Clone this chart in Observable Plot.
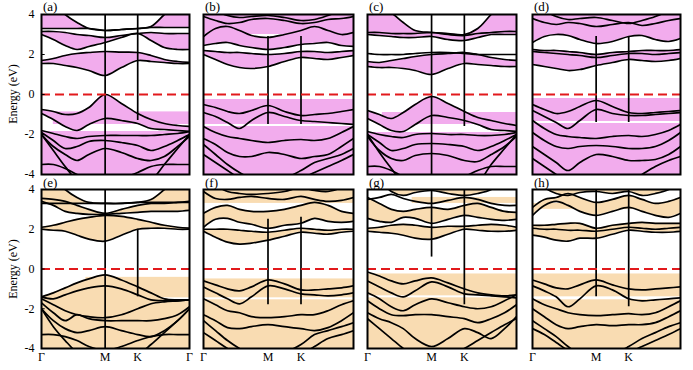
<!DOCTYPE html>
<html><head><meta charset="utf-8">
<script src="https://cdn.jsdelivr.net/npm/d3@7"></script>
<script src="https://cdn.jsdelivr.net/npm/@observablehq/plot@0.6"></script>
<style>
body{margin:0;background:#fff;}
#root{position:relative;width:693px;height:370px;overflow:hidden;font-family:"Liberation Serif","DejaVu Serif",serif;}
.pl{position:absolute;}
.lab{position:absolute;font-size:13px;line-height:13px;color:#000;}
.ylab{position:absolute;font-size:12px;white-space:nowrap;transform:translate(-50%,-50%) rotate(-90deg);}
</style></head>
<body><div id="root"></div>
<script>
// k-path sample points (fraction of path): Γ ... M(0.43) ... K(0.65) ... Γ
const kPts = [0, 0.08, 0.16, 0.24, 0.32, 0.43, 0.54, 0.65, 0.74, 0.83, 0.92, 1];
const yTicks = [-4, -2, 0, 2, 4];
const xTickVals4 = [0, 0.43, 0.65, 1];
const xTickText4 = ["Γ", "M", "K", "Γ"];
const xTickVals3 = [0, 0.43, 0.65];
const xTickText3 = ["Γ", "M", "K"];
const panelNames = ["(a)", "(b)", "(c)", "(d)", "(e)", "(f)", "(g)", "(h)"];
const pink = "#f2aced";
const orange = "#f9dcb2";

// bands: conduction c1..c6 (idx 0-5), valence v1..v7 (idx 6..)
const bandsA = [
  [1.55, 1.55, 1.45, 1.35, 1.2, 0.95, 1.35, 1.7, 1.65, 1.6, 1.55, 1.55],
  [1.7, 1.8, 1.95, 2.05, 2.1, 2.15, 2.12, 2.1, 1.95, 1.75, 1.65, 1.6],
  [3.0, 2.75, 2.45, 2.25, 2.4, 2.6, 2.85, 3.05, 2.7, 2.35, 2.25, 2.25],
  [3.15, 3.15, 3.1, 3.0, 2.95, 2.85, 2.95, 3.05, 3.1, 3.05, 3.05, 3.05],
  [3.3, 3.3, 3.3, 3.3, 3.3, 3.2, 3.25, 3.3, 3.35, 3.35, 3.35, 3.35],
  [5.0, 4.6, 4.0, 3.6, 3.3, 3.2, 3.25, 3.3, 3.4, 4.0, 4.6, 5.0],
  [-0.75, -0.85, -1.0, -0.95, -0.65, 0.0, -0.45, -0.95, -1.25, -1.45, -1.55, -1.6],
  [-0.95, -1.25, -1.6, -1.8, -1.5, -1.2, -1.3, -1.45, -1.7, -1.75, -1.8, -1.85],
  [-1.8, -1.95, -2.1, -2.2, -2.1, -2.05, -2.05, -2.05, -2.05, -2.0, -1.95, -1.85],
  [-1.9, -2.3, -2.7, -2.6, -2.35, -2.3, -2.4, -2.55, -2.8, -2.6, -2.3, -2.0],
  [-2.0, -2.6, -3.0, -3.3, -3.0, -2.7, -2.9, -3.2, -3.3, -3.1, -2.6, -2.1],
  [-3.5, -3.5, -3.7, -4.0, -4.3, -4.4, -4.2, -3.9, -3.6, -3.5, -3.5, -3.5],
  [-2.0, -2.8, -3.6, -4.3, -4.6, -4.6, -4.6, -4.6, -4.3, -3.5, -2.7, -2.0]
];
const bandsB = [
  [2.0, 1.75, 1.5, 1.35, 1.3, 1.4, 1.65, 1.85, 1.8, 1.75, 1.85, 1.95],
  [2.2, 2.15, 2.1, 2.1, 2.05, 2.0, 2.05, 2.15, 2.15, 2.1, 2.15, 2.2],
  [2.45, 2.55, 2.6, 2.45, 2.35, 2.25, 2.35, 2.5, 2.55, 2.6, 2.45, 2.4],
  [2.9, 3.3, 3.4, 3.2, 2.95, 2.85, 3.0, 3.2, 3.4, 3.2, 3.0, 3.1],
  [3.9, 3.7, 3.55, 3.6, 3.75, 3.8, 3.7, 3.55, 3.6, 3.75, 3.8, 3.9],
  [4.5, 4.2, 3.95, 3.85, 3.9, 3.95, 3.85, 3.7, 3.75, 3.95, 4.2, 4.5],
  [-0.5, -0.65, -0.85, -0.95, -0.8, -0.55, -0.85, -1.05, -1.0, -0.95, -0.85, -0.75],
  [-0.9, -1.1, -1.4, -1.7, -1.3, -0.9, -1.1, -1.3, -1.35, -1.4, -1.45, -1.5],
  [-1.6, -1.9, -2.1, -2.2, -2.3, -2.4, -2.3, -2.25, -2.3, -2.2, -1.9, -1.6],
  [-2.2, -2.5, -2.9, -3.1, -3.1, -2.9, -3.0, -3.2, -3.1, -3.0, -2.6, -2.2],
  [-2.5, -3.0, -3.5, -3.9, -4.2, -4.4, -4.2, -3.8, -3.4, -3.2, -3.0, -2.7],
  [-3.0, -3.4, -3.8, -4.2, -4.5, -4.6, -4.5, -4.2, -3.9, -3.6, -3.3, -3.0]
];
const bandsC = [
  [1.4, 1.35, 1.35, 1.3, 1.2, 1.0, 1.3, 1.55, 1.5, 1.45, 1.4, 1.4],
  [1.65, 1.6, 1.7, 1.8, 1.9, 2.0, 2.05, 2.1, 2.0, 1.85, 1.75, 1.7],
  [2.05, 2.0, 2.0, 2.0, 2.05, 2.1, 2.1, 2.05, 2.0, 2.0, 2.0, 2.0],
  [3.0, 2.95, 2.9, 2.85, 2.85, 2.9, 2.75, 2.7, 2.85, 3.0, 3.0, 3.0],
  [3.1, 3.1, 3.05, 3.05, 3.05, 3.1, 3.0, 2.95, 3.05, 3.1, 3.15, 3.15],
  [5.0, 4.6, 4.1, 3.6, 3.2, 3.1, 3.05, 3.0, 3.3, 4.0, 4.6, 5.0],
  [-0.8, -1.0, -1.2, -0.9, -0.5, -0.1, -0.45, -0.85, -1.15, -1.3, -1.45, -1.55],
  [-1.2, -1.5, -1.8, -1.85, -1.5, -1.05, -1.15, -1.3, -1.5, -1.75, -1.8, -1.85],
  [-1.85, -2.0, -2.1, -2.15, -2.0, -1.95, -2.0, -2.0, -2.05, -2.05, -2.0, -1.9],
  [-2.0, -2.4, -2.8, -2.7, -2.5, -2.45, -2.5, -2.6, -2.8, -2.6, -2.3, -2.0],
  [-2.1, -2.8, -3.2, -3.3, -3.05, -2.95, -3.05, -3.3, -3.35, -3.0, -2.6, -2.1],
  [-3.6, -3.6, -3.8, -4.1, -4.3, -4.4, -4.3, -4.1, -3.8, -3.6, -3.6, -3.6],
  [-2.0, -2.9, -3.7, -4.4, -4.6, -4.6, -4.6, -4.6, -4.4, -3.5, -2.7, -2.0]
];
const bandsD = [
  [1.5, 1.4, 1.3, 1.2, 1.25, 1.45, 1.6, 1.75, 1.7, 1.65, 1.7, 1.8],
  [2.15, 2.1, 2.05, 2.0, 1.95, 1.85, 1.95, 2.05, 2.05, 2.0, 2.05, 2.1],
  [2.25, 2.2, 2.2, 2.15, 2.1, 2.0, 2.1, 2.15, 2.2, 2.2, 2.2, 2.25],
  [2.6, 2.9, 3.0, 2.95, 2.75, 2.55, 2.65, 2.9, 2.95, 2.75, 2.65, 2.8],
  [3.8, 3.6, 3.5, 3.6, 3.55, 3.4, 3.5, 3.6, 3.45, 3.55, 3.7, 3.8],
  [4.6, 4.2, 3.9, 3.75, 3.8, 3.85, 3.7, 3.55, 3.7, 3.9, 4.2, 4.6],
  [-0.5, -0.75, -0.95, -0.85, -0.6, -0.3, -0.6, -0.9, -0.95, -0.9, -0.85, -0.8],
  [-0.8, -1.1, -1.4, -1.7, -1.3, -0.75, -0.95, -1.05, -1.05, -1.0, -0.95, -0.9],
  [-1.3, -1.7, -2.0, -2.1, -2.15, -2.2, -2.1, -2.05, -2.1, -2.0, -1.8, -1.5],
  [-1.9, -2.3, -2.6, -2.7, -2.6, -2.55, -2.6, -2.7, -2.7, -2.6, -2.3, -1.9],
  [-2.6, -3.0, -3.4, -3.8, -3.4, -3.0, -3.1, -3.3, -3.3, -3.25, -3.0, -2.6],
  [-3.2, -3.6, -4.0, -4.4, -4.6, -4.6, -4.6, -4.4, -4.0, -3.6, -3.3, -3.1]
];
const bandsE = [
  [2.0, 1.95, 1.9, 1.7, 1.5, 1.4, 1.7, 2.0, 2.05, 2.05, 2.0, 2.0],
  [2.1, 2.2, 2.35, 2.5, 2.6, 2.7, 2.65, 2.5, 2.35, 2.2, 2.1, 2.05],
  [3.4, 3.2, 2.9, 2.8, 2.75, 2.75, 2.8, 2.85, 2.9, 2.9, 2.9, 2.95],
  [3.55, 3.5, 3.4, 3.2, 3.0, 2.8, 3.0, 3.2, 3.3, 3.3, 3.35, 3.4],
  [3.3, 3.3, 3.3, 3.3, 3.3, 3.3, 3.3, 3.35, 3.35, 3.35, 3.35, 3.35],
  [5.0, 4.6, 4.0, 3.6, 3.35, 3.3, 3.3, 3.35, 3.5, 4.0, 4.6, 5.0],
  [-1.4, -1.2, -0.95, -0.7, -0.5, -0.3, -0.55, -0.9, -1.2, -1.5, -1.55, -1.55],
  [-1.4, -1.5, -1.3, -1.1, -0.95, -0.85, -1.0, -1.3, -1.55, -1.6, -1.6, -1.55],
  [-1.5, -1.8, -2.1, -2.3, -2.4, -2.45, -2.3, -2.0, -1.75, -1.65, -1.6, -1.55],
  [-1.7, -2.2, -2.6, -2.3, -2.5, -2.6, -2.6, -2.6, -2.6, -2.5, -2.3, -1.9],
  [-2.0, -2.6, -3.0, -3.2, -3.1, -2.9, -3.1, -3.3, -3.4, -3.1, -2.6, -2.0],
  [-3.3, -3.3, -3.4, -3.6, -3.9, -4.1, -3.9, -3.6, -3.4, -3.3, -3.3, -3.3],
  [-2.0, -2.9, -3.6, -4.2, -4.5, -4.6, -4.5, -4.3, -3.8, -3.2, -2.6, -2.0]
];
const bandsF = [
  [1.9, 1.6, 1.35, 1.25, 1.3, 1.45, 1.65, 1.85, 1.8, 1.75, 1.85, 1.9],
  [2.0, 2.0, 2.0, 1.95, 1.9, 1.85, 1.95, 2.05, 2.0, 1.95, 2.0, 2.0],
  [2.1, 2.5, 2.55, 2.35, 2.25, 2.05, 2.2, 2.3, 2.55, 2.4, 2.35, 2.4],
  [2.8, 3.1, 3.2, 3.0, 2.9, 2.9, 3.0, 3.2, 3.35, 3.2, 2.9, 2.8],
  [3.9, 3.55, 3.5, 3.6, 3.65, 3.55, 3.5, 3.65, 3.5, 3.4, 3.45, 3.6],
  [4.5, 4.2, 3.9, 3.8, 3.75, 3.8, 3.9, 4.1, 3.95, 3.9, 4.1, 4.5],
  [-0.6, -0.8, -1.0, -1.1, -0.9, -0.55, -0.75, -1.05, -1.05, -1.0, -0.95, -0.85],
  [-0.9, -1.2, -1.5, -1.75, -1.4, -0.85, -1.0, -1.25, -1.3, -1.35, -1.3, -1.2],
  [-1.5, -1.8, -2.1, -2.2, -2.4, -2.45, -2.4, -2.3, -2.3, -2.1, -1.8, -1.6],
  [-2.3, -2.6, -2.95, -3.0, -2.9, -2.8, -2.9, -3.0, -3.1, -2.95, -2.6, -2.2],
  [-2.6, -3.1, -3.6, -4.0, -4.3, -4.4, -4.2, -3.8, -3.3, -3.1, -2.9, -2.7],
  [-3.2, -3.6, -4.0, -4.3, -4.5, -4.6, -4.5, -4.3, -3.9, -3.5, -3.3, -3.1]
];
const bandsG = [
  [1.9, 1.85, 1.8, 1.7, 1.55, 1.5, 1.75, 2.0, 1.95, 1.9, 1.9, 1.95],
  [2.05, 2.1, 2.2, 2.25, 2.2, 2.1, 2.15, 2.15, 2.2, 2.25, 2.2, 2.1],
  [2.55, 2.4, 2.35, 2.6, 2.55, 2.3, 2.5, 2.7, 2.6, 2.5, 2.45, 2.5],
  [3.6, 3.3, 3.0, 2.9, 3.0, 3.1, 3.0, 3.2, 3.3, 3.1, 2.9, 2.85],
  [3.5, 3.6, 3.75, 3.55, 3.4, 3.3, 3.45, 3.6, 3.5, 3.3, 3.2, 3.2],
  [5.0, 4.5, 3.9, 3.7, 3.85, 3.95, 3.8, 3.7, 3.8, 4.0, 4.5, 5.0],
  [-0.15, -0.35, -0.6, -0.75, -0.6, -0.45, -0.7, -1.0, -1.2, -1.3, -1.35, -1.3],
  [-0.6, -0.9, -1.2, -1.4, -1.1, -0.65, -0.9, -1.25, -1.3, -1.35, -1.4, -1.45],
  [-1.2, -1.5, -1.9, -2.1, -1.8, -1.5, -1.7, -1.9, -2.0, -1.9, -1.6, -1.3],
  [-1.6, -2.0, -2.3, -2.35, -2.3, -2.3, -2.4, -2.5, -2.7, -2.5, -2.2, -1.8],
  [-2.2, -2.5, -2.7, -3.0, -3.5, -3.9, -3.5, -3.0, -3.2, -3.5, -3.0, -2.4],
  [-2.5, -3.0, -3.5, -4.0, -4.4, -4.6, -4.4, -4.0, -3.6, -3.2, -2.8, -2.5]
];
const bandsH = [
  [1.7, 1.6, 1.45, 1.4, 1.55, 1.55, 1.75, 1.95, 1.9, 1.85, 1.85, 1.9],
  [2.05, 2.0, 2.0, 1.95, 1.95, 1.9, 2.0, 2.1, 2.05, 2.0, 2.05, 2.1],
  [2.2, 2.2, 2.25, 2.3, 2.3, 2.05, 2.2, 2.3, 2.35, 2.3, 2.3, 2.3],
  [2.7, 3.2, 3.4, 3.2, 2.9, 2.7, 2.9, 3.1, 2.9, 2.7, 2.6, 2.8],
  [3.1, 3.5, 3.6, 3.8, 3.6, 3.35, 3.5, 3.7, 3.5, 3.3, 3.4, 3.6],
  [4.6, 4.1, 3.8, 3.7, 3.85, 3.9, 3.8, 3.9, 3.7, 3.8, 4.0, 4.4],
  [-0.55, -0.75, -0.95, -1.0, -0.8, -0.55, -0.8, -1.0, -1.05, -1.0, -0.95, -0.9],
  [-0.85, -1.1, -1.4, -1.9, -1.5, -0.85, -1.05, -1.5, -1.6, -1.55, -1.5, -1.45],
  [-1.5, -1.8, -2.0, -2.2, -2.3, -2.35, -2.3, -2.25, -2.3, -2.2, -1.9, -1.6],
  [-2.0, -2.4, -2.8, -3.0, -2.9, -2.8, -2.85, -2.8, -2.8, -2.7, -2.4, -2.1],
  [-2.6, -3.0, -3.4, -3.9, -4.3, -4.5, -4.3, -3.9, -3.5, -3.2, -2.9, -2.7],
  [-3.0, -3.3, -3.7, -4.1, -4.4, -4.6, -4.5, -4.2, -3.9, -3.6, -3.3, -3.0]
];

// shaded regions: areas between two bands ("top"/"bot" = frame edge)
const areasA = [[4, 5], [0, 1], [2, 3], [7, 6]];
const areasB = [[0, 1], [2, 3], [4, 5], [5, "top"]];
const areasC = [[4, 5], [0, 1], [3, 4], [7, 6]];
const areasD = [[0, 2], [3, 4], [5, "top"]];
const areasE = [[4, 5], [0, 1], [2, 3], [6, "bot"]];
const areasF = [[0, 1], [2, 3], [5, "top"]];
const areasG = [[0, 1], [2, 3], [5, "top"]];
const areasH = [[0, 2], [3, 4], [5, "top"]];
// horizontal shaded strips [k1, k2, E1, E2]
const rectsA = [[0.08, 1, -0.87, -1.5], [0, 1, -1.85, -4]];
const rectsB = [[0, 1, -0.25, -1.5], [0, 1, -1.6, -4], [0, 1, 3.0, 4]];
const rectsC = [[0.1, 1, -0.9, -1.5], [0, 1, -1.9, -4]];
const rectsD = [[0, 1, -0.2, -1.35], [0, 1, -1.45, -4], [0, 1, 3.1, 4]];
const rectsE = [[0.3, 1, -0.42, -1.45], [0, 1, -1.55, -4]];
const rectsF = [[0, 1, -0.5, -1.45], [0, 1, -1.55, -4], [0, 1, 3.3, 4]];
const rectsG = [[0, 1, -0.25, -1.35], [0, 1, -1.45, -4], [0.3, 1, 3.3, 3.6]];
const rectsH = [[0, 1, -0.25, -1.4], [0, 1, -1.55, -4], [0, 1, 3.0, 3.3]];
// vertical high-symmetry lines [k, Emin, Emax]
const vA = [[0.43, -4, 4], [0.65, -1.3, 4]];
const vB = [[0.43, -1.5, 2.9], [0.65, -1.5, 2.9]];
const vC = [[0.43, -4, 4], [0.65, -1.6, 4]];
const vD = [[0.43, -1.4, 2.9], [0.65, -1.4, 2.9]];
const vE = [[0.43, -4, 4], [0.65, -1.4, 2.0]];
const vF = [[0.43, -1.8, 2.5], [0.65, -1.8, 2.6]];
const vG = [[0.43, 0.6, 4], [0.65, -1.8, 4]];
const vH = [[0.43, -1.4, 4], [0.65, -1.9, 4]];

const frameX = [41, 203, 367, 532];
const frameW = [148, 150, 149, 148];

const panels = [
  {bands: bandsA, areas: areasA, rects: rectsA, v: vA, color: pink},
  {bands: bandsB, areas: areasB, rects: rectsB, v: vB, color: pink},
  {bands: bandsC, areas: areasC, rects: rectsC, v: vC, color: pink},
  {bands: bandsD, areas: areasD, rects: rectsD, v: vD, color: pink},
  {bands: bandsE, areas: areasE, rects: rectsE, v: vE, color: orange},
  {bands: bandsF, areas: areasF, rects: rectsF, v: vF, color: orange},
  {bands: bandsG, areas: areasG, rects: rectsG, v: vG, color: orange},
  {bands: bandsH, areas: areasH, rects: rectsH, v: vH, color: orange}
];

const root = document.getElementById("root");

function pairData(bands, pr) {
  const get = (s, n) => s === "top" ? 4.6 : s === "bot" ? -4.6 : bands[s][n];
  return kPts.map((k, n) => ({k, lo: get(pr[0], n), hi: get(pr[1], n)}));
}

panels.forEach((p, i) => {
  const row = i < 4 ? 0 : 1;
  const col = i % 4;
  const left = col === 0;
  const mL = left ? 41 : 4;
  const mR = 4;
  const mT = 14;
  const innerH = row === 0 ? 160 : 159;
  const mB = row === 0 ? 4 : 22;
  const W = mL + frameW[col] + mR;
  const H = mT + innerH + mB;
  const lines = p.bands.flatMap((b, bi) => b.map((e, n) => ({k: kPts[n], e, bi})));
  const marks = [
    Plot.rect(p.rects, {x1: d => d[0], x2: d => d[1], y1: d => d[2], y2: d => d[3], fill: p.color, clip: true}),
    ...p.areas.map(pr => Plot.areaY(pairData(p.bands, pr), {x: "k", y1: "lo", y2: "hi", fill: p.color, curve: "catmull-rom", clip: true})),
    Plot.line(lines, {x: "k", y: "e", z: "bi", stroke: "black", strokeWidth: 1.7, curve: "catmull-rom", clip: true}),
    Plot.ruleX(p.v, {x: d => d[0], y1: d => d[1], y2: d => d[2], stroke: "black", strokeWidth: 1.7, clip: true}),
    Plot.ruleY([0], {stroke: "#e2191c", strokeWidth: 2, strokeDasharray: "9,5", clip: true}),
    Plot.frame({stroke: "black", strokeWidth: 2})
  ];
  if (left) {
    marks.push(Plot.axisY(yTicks, {tickSize: 0, tickPadding: 7, tickFormat: d => String(d), label: null, fontSize: 12}));
    marks.push(Plot.ruleY(yTicks, {x1: 0, x2: 0.025, stroke: "black", strokeWidth: 1}));
  }
  if (row === 1) {
    const vals = col === 0 ? xTickVals4 : xTickVals3;
    const txt = col === 0 ? xTickText4 : xTickText3;
    marks.push(Plot.axisX(vals, {tickSize: 0, tickPadding: 4, tickFormat: d => txt[vals.indexOf(d)], label: null, fontSize: 12}));
  }
  const svg = Plot.plot({
    width: W, height: H,
    marginLeft: mL, marginRight: mR, marginTop: mT, marginBottom: mB,
    x: {domain: [0, 1], axis: row === 1 ? undefined : null},
    y: {domain: [-4, 4], axis: left ? undefined : null},
    style: {fontFamily: "Liberation Serif, serif", fontSize: "12px", background: "transparent", overflow: "visible"},
    marks
  });
  const wrap = document.createElement("div");
  wrap.className = "pl";
  wrap.style.left = (frameX[col] - mL) + "px";
  wrap.style.top = (row === 0 ? 0 : 175) + "px";
  wrap.appendChild(svg);
  root.appendChild(wrap);

  const lab = document.createElement("div");
  lab.className = "lab";
  lab.textContent = panelNames[i];
  lab.style.left = (frameX[col] + 2) + "px";
  lab.style.top = (row === 0 ? 0 : 176) + "px";
  root.appendChild(lab);
});

["Energy (eV)", "Energy (eV)"].forEach((t, r) => {
  const d = document.createElement("div");
  d.className = "ylab";
  d.textContent = t;
  d.style.left = "13px";
  d.style.top = (r === 0 ? 94 : 269) + "px";
  root.appendChild(d);
});
</script>
</body></html>
